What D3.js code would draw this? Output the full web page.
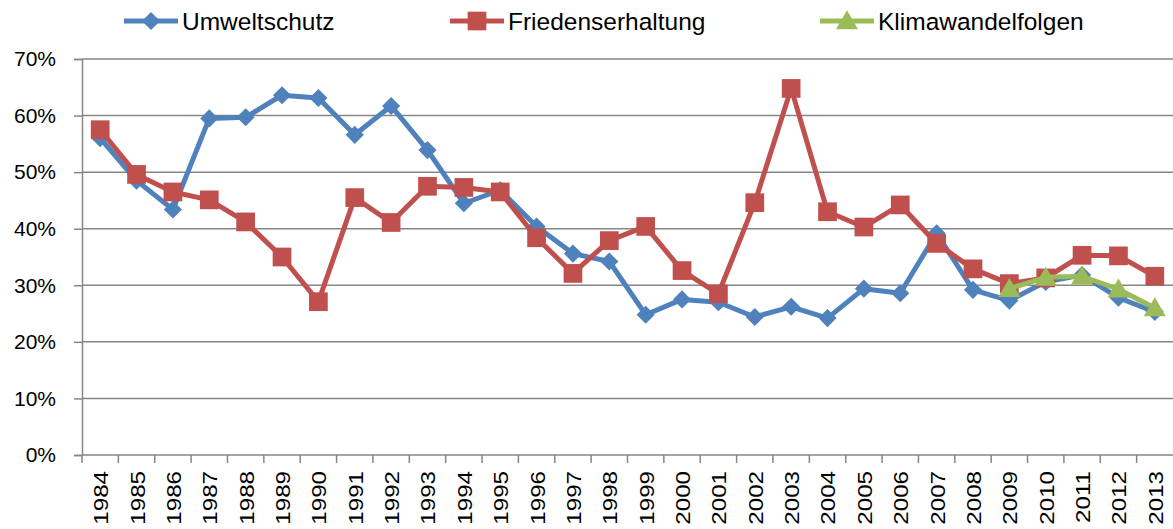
<!DOCTYPE html>
<html>
<head>
<meta charset="utf-8">
<title>Umweltschutz, Friedenserhaltung, Klimawandelfolgen</title>
<script src="https://d3js.org/d3.v7.min.js"></script>
<style>
  body { margin: 0; background: #fff; }
  svg { display: block; font-family: "Liberation Sans", Arial, sans-serif; }
</style>
</head>
<body>
<div id="chart"></div>
<script>
// years on the x axis
const years = d3.range(1984, 2014).map(String);

// shares in percent
const umweltschutz = [56.0, 48.5, 43.4, 59.5, 59.7, 63.6, 63.1, 56.6, 61.7, 53.9,
                      44.5, 46.8, 40.4, 35.6, 34.2, 24.8, 27.5, 27.0, 24.4, 26.2,
                      24.2, 29.4, 28.6, 39.2, 29.2, 27.3, 30.6, 31.8, 27.8, 25.3];
const friedenserhaltung = [57.5, 49.6, 46.5, 45.1, 41.2, 35.0, 27.1, 45.5, 41.1, 47.5,
                           47.3, 46.5, 38.4, 32.1, 37.9, 40.4, 32.6, 28.5, 44.6, 64.8,
                           43.0, 40.3, 44.2, 37.4, 32.9, 30.3, 31.3, 35.3, 35.2, 31.6];
const klimawandelfolgen = [null, null, null, null, null, null, null, null, null, null,
                           null, null, null, null, null, null, null, null, null, null,
                           null, null, null, null, null, 29.4, 31.4, 31.6, 29.3, 26.0];

const yTicks = [0, 10, 20, 30, 40, 50, 60, 70];

const series = [
  { name: "Umweltschutz", values: umweltschutz, color: "#4F81BD", shape: "diamond", legendX: 124 },
  { name: "Friedenserhaltung", values: friedenserhaltung, color: "#C0504D", shape: "square", legendX: 450 },
  { name: "Klimawandelfolgen", values: klimawandelfolgen, color: "#9BBB59", shape: "triangle", legendX: 820 }
];

const width = 1173, height = 529;
const plotLeft = 82, plotRight = 1173, plotTop = 59, plotBottom = 455;

const svg = d3.select("#chart").append("svg")
  .attr("width", width)
  .attr("height", height);

const x = d3.scaleBand().domain(years).range([plotLeft, plotRight]).padding(0);
const y = d3.scaleLinear().domain([0, 70]).range([plotBottom, plotTop]);

const gridColor = "#868686";

// horizontal grid lines
svg.append("g")
  .selectAll("line")
  .data(yTicks.filter(d => d > 0))
  .enter().append("line")
  .attr("x1", plotLeft).attr("x2", plotRight)
  .attr("y1", d => y(d)).attr("y2", d => y(d))
  .attr("stroke", gridColor)
  .attr("stroke-width", 1.5);

// y axis
const yAxis = svg.append("g")
  .attr("transform", `translate(${plotLeft},0)`)
  .call(d3.axisLeft(y).tickValues(yTicks).tickSize(8).tickPadding(18).tickFormat(d => d + "%"));
yAxis.select(".domain").attr("stroke", gridColor).attr("stroke-width", 1.5);
yAxis.selectAll(".tick line").attr("stroke", gridColor).attr("stroke-width", 1.5);
yAxis.selectAll(".tick text")
  .attr("fill", "#000")
  .style("font-size", "21px");

// x axis: ticks between categories
const xAxis = svg.append("g")
  .attr("transform", `translate(0,${plotBottom})`);
xAxis.append("line")
  .attr("x1", plotLeft).attr("x2", plotRight)
  .attr("stroke", gridColor).attr("stroke-width", 1.5);
xAxis.selectAll(".xtick")
  .data(years)
  .enter().append("line")
  .attr("class", "xtick")
  .attr("x1", d => x(d)).attr("x2", d => x(d))
  .attr("y1", 0).attr("y2", 8)
  .attr("stroke", gridColor).attr("stroke-width", 1.5);
xAxis.selectAll(".xlabel")
  .data(years)
  .enter().append("text")
  .attr("class", "xlabel")
  .attr("transform", d => `translate(${x(d) + x.bandwidth() / 2 + 1},16) rotate(-90) scale(1.15,1)`)
  .attr("text-anchor", "end")
  .attr("dominant-baseline", "central")
  .style("font-size", "21px")
  .attr("fill", "#000")
  .text(d => d);

// marker shapes
const symbols = {
  diamond: d3.symbol().type(d3.symbolDiamond2).size(210),
  square: d3.symbol().type(d3.symbolSquare).size(350),
  triangle: d3.symbol().type(d3.symbolTriangle).size(210)
};

const cx = d => x(d) + x.bandwidth() / 2;

const line = d3.line()
  .defined(d => d.v != null)
  .x(d => cx(d.year))
  .y(d => y(d.v));

series.forEach(s => {
  const pts = years.map((yr, i) => ({ year: yr, v: s.values[i] }));
  const g = svg.append("g");
  g.append("path")
    .datum(pts)
    .attr("d", line)
    .attr("fill", "none")
    .attr("stroke", s.color)
    .attr("stroke-width", 5)
    .attr("stroke-linejoin", "round");
  g.selectAll("path.marker")
    .data(pts.filter(d => d.v != null))
    .enter().append("path")
    .attr("class", "marker")
    .attr("d", symbols[s.shape])
    .attr("transform", d => `translate(${cx(d.year)},${y(d.v) + (s.shape === "triangle" ? 2 : 0)})`)
    .attr("fill", s.color);
});

// legend
const legend = svg.append("g");
series.forEach(s => {
  const lg = legend.append("g").attr("transform", `translate(${s.legendX},21)`);
  lg.append("line")
    .attr("x1", 0).attr("x2", 54)
    .attr("stroke", s.color).attr("stroke-width", 5);
  lg.append("path")
    .attr("d", symbols[s.shape])
    .attr("transform", `translate(27,${s.shape === "triangle" ? 2 : 0})`)
    .attr("fill", s.color);
  lg.append("text")
    .attr("x", 58)
    .attr("y", 0)
    .attr("dominant-baseline", "central")
    .style("font-size", "24.5px")
    .attr("fill", "#000")
    .text(s.name);
});
</script>
</body>
</html>
